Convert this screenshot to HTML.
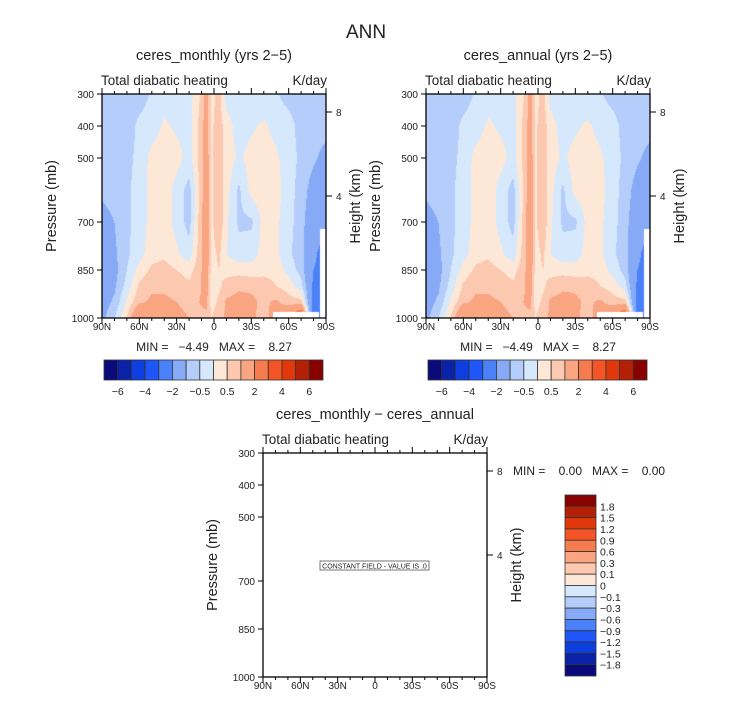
<!DOCTYPE html>
<html><head><meta charset="utf-8">
<style>
body{margin:0;background:#fff;width:733px;height:702px;overflow:hidden;position:relative;font-family:"Liberation Sans",sans-serif;}
canvas{position:absolute;}
svg{position:absolute;left:0;top:0;}
text{white-space:pre;}
</style></head>
<body>
<canvas id="c1" width="224" height="224" style="left:102px;top:94px"></canvas>
<canvas id="c2" width="224" height="224" style="left:426px;top:94px"></canvas>
<svg id="s" width="733" height="702"></svg>
<script>
// ---- data ----
const lats=[90,80,70,60,50,40,30,20,12,6,2,-4,-10,-20,-30,-40,-50,-60,-70,-80,-90];
const pres=[300,400,500,600,700,800,850,900,950,1000];
const f300=[-0.8,-0.8,-0.8,-0.7,-0.45,-0.3,-0.3,-0.2,0.4,1.3,0.3,0.7,-0.2,-0.3,-0.3,-0.4,-0.45,-0.7,-0.8,-0.8,-0.8];
const f400=[-0.8,-0.8,-0.7,-0.4,-0.3,0.1,-0.1,-0.2,0.6,1.3,0.4,0.8,0.2,-0.2,-0.1,0.1,-0.2,-0.3,-0.7,-0.8,-0.8];
const f500=[-0.9,-0.8,-0.6,-0.4,0.2,0.3,0.2,-0.2,0.6,1.4,0.4,0.8,0.3,-0.1,0.2,0.3,0.1,-0.3,-0.6,-0.9,-1.2];
const f600=[-0.9,-0.8,-0.6,-0.3,0.2,0.3,-0.2,-0.7,0.5,1.5,0.4,0.8,0.2,-0.6,0.2,0.3,0.2,-0.3,-0.7,-1.3,-1.5];
const f700=[-1.2,-1.0,-0.6,-0.3,0.2,0.3,-0.2,-0.7,0.6,1.6,0.4,0.9,0.1,-0.6,-0.6,0.2,0.1,-0.3,-0.8,-1.5,-1.8];
const f800=[-1.3,-1.1,-0.6,-0.2,0.3,0.4,0.1,-0.3,0.7,1.6,0.3,0.6,0.0,-0.3,-0.2,0.2,0.1,-0.4,-0.8,-1.8,-2.5];
const f850=[-1.3,-1.2,-0.5,0.2,0.6,0.7,0.5,0.3,0.8,1.4,0.3,0.5,0.3,0.3,0.2,0.3,0.3,-0.2,-0.7,-2,-2.5];
const f900=[-1.3,-1.1,-0.3,0.6,0.9,0.9,0.8,0.6,0.9,1.3,0.2,0.4,0.7,0.9,0.9,0.8,0.5,0.3,-0.3,-2.2,-2.5];
const f950=[-1.3,-0.9,0.1,0.9,1.1,1.1,1.0,0.9,1.0,1.1,0.3,0.6,1.1,1.2,1.1,0.9,1.1,0.7,0.7,-2.5,-2.5];
const f1000=[-1.2,-0.5,0.5,2.1,1.3,1.2,1.1,1.0,0.9,0.9,0.5,0.8,1.1,1.2,1.1,0.8,1.3,2.1,3.5,-2.5,-2.5];
const levels=[-6,-5,-4,-3,-2,-1,-0.5,0,0.5,1,2,3,4,5,6];
const cbLabels=["-6","-4","-2","-0.5","0.5","2","4","6"];
const diffLabels=["1.8","1.5","1.2","0.9","0.6","0.3","0.1","0","-0.1","-0.3","-0.6","-0.9","-1.2","-1.5","-1.8"];
const latTicks=["90N","60N","30N","0","30S","60S","90S"];
const presTicks=[300,400,500,700,850,1000];
const colors=["#0a0a7a","#0a22a8","#0c3ee0","#1e56fa","#4a80f8","#86aaf6","#b4cdfa","#d6e8fc","#fde8d8","#fcc8b0","#f9a582","#f67c50","#f45426","#e0380a","#b42006","#880202"];
const field=[f300,f400,f500,f600,f700,f800,f850,f900,f950,f1000];

function seg(arr,v,desc){for(let i=0;i<arr.length-1;i++){const a=arr[i],b=arr[i+1];if(desc?(v<=a&&v>=b):(v>=a&&v<=b))return [i,(v-a)/(b-a)];}return [arr.length-2,1];}
function val(lat,p){const [i,t]=seg(lats,lat,true);const [j,u]=seg(pres,p,false);
 const a=field[j][i],b=field[j][i+1],c=field[j+1][i],d=field[j+1][i+1];
 return (a*(1-t)+b*t)*(1-u)+(c*(1-t)+d*t)*u;}
function lev(v){let k=0;for(const l of levels)if(v>=l)k++;return k;}
function yOf(p){return (p-300)/700*224;}
function drawField(id){const cv=document.getElementById(id),ctx=cv.getContext('2d');
 for(let y=0;y<224;y++)for(let x=0;x<224;x++){const lat=90-(x+0.5)/224*180,p=300+(y+0.5)/224*700;
  ctx.fillStyle=colors[lev(val(lat,p))];ctx.fillRect(x,y,1,1);}
 ctx.fillStyle="#fff";ctx.fillRect(218,135,6,89);ctx.fillRect(171,218,46,6);}
drawField('c1');drawField('c2');

const S=document.getElementById('s');const NS="http://www.w3.org/2000/svg";
function el(tag,attrs,txt,parent){const e=document.createElementNS(NS,tag);for(const k in attrs)e.setAttribute(k,attrs[k]);if(txt!==undefined)e.textContent=txt;(parent||S).appendChild(e);return e;}
let t=el('text',{x:366,y:38,'font-size':19,'text-anchor':'middle',fill:'#222'},'ANN');



function panel(x0,y0,title,name){
 const g=el('g',{});
 
 
 let e=el('text',{x:x0+112,y:y0-34,'font-size':14.5,'text-anchor':'middle',fill:'#222'},title,g);
 
 e=el('text',{x:x0-1,y:y0-9,'font-size':13.5,fill:'#222'},'Total diabatic heating',g);
 
 e=el('text',{x:x0+225,y:y0-9,'font-size':13.5,'text-anchor':'end',fill:'#222'},'K/day',g);
 
 el('rect',{x:x0,y:y0,width:224,height:224,fill:'none',stroke:'#000','stroke-width':1.3},undefined,g);
 for(let k=0;k<=18;k++){const x=x0+k*224/18,L=(k%3==0)?6:3;
  el('line',{x1:x,y1:y0,x2:x,y2:y0-L,stroke:'#000'},undefined,g);
  el('line',{x1:x,y1:y0+224,x2:x,y2:y0+224+L,stroke:'#000'},undefined,g);}
 latTicks.forEach((s,i)=>{e=el('text',{x:x0+i*224/6,y:y0+236,'font-size':10,'text-anchor':'middle',fill:'#222'},s,g);
  });
 presTicks.forEach(p=>{const y=y0+yOf(p);el('line',{x1:x0,y1:y,x2:x0-5,y2:y,stroke:'#000'},undefined,g);
  e=el('text',{x:x0-8,y:y+4,'font-size':10,'text-anchor':'end',fill:'#222'},String(p),g);
  });
 [[8,18],[4,102]].forEach(([h,dy])=>{el('line',{x1:x0+224,y1:y0+dy,x2:x0+230,y2:y0+dy,stroke:'#000'},undefined,g);
  e=el('text',{x:x0+234,y:y0+dy+4,'font-size':10,fill:'#222'},String(h),g);
  });
 e=el('text',{x:0,y:0,'font-size':14.5,'text-anchor':'middle',fill:'#222',transform:`translate(${x0-46},${y0+112}) rotate(-90)`},'Pressure (mb)',g);
 
 e=el('text',{x:0,y:0,'font-size':14.5,'text-anchor':'middle',fill:'#222',transform:`translate(${x0+258},${y0+112}) rotate(-90)`},'Height (km)',g);
 
}
function hbar(x0,y0,name){
 const g=el('g',{});
 
 
 const w=219/16;
 colors.forEach((c,i)=>{const r=el('rect',{x:x0+i*w,y:y0,width:w,height:20,fill:c,stroke:'#333','stroke-width':0.8},undefined,g);
  });
 cbLabels.forEach((s,i)=>{const e=el('text',{x:x0+(2*i+1)*w,y:y0+35,'font-size':10.5,'text-anchor':'middle',fill:'#222'},s.replace('-','\u2212'),g);
  });
}
panel(102,94,'ceres_monthly (yrs 2\u22125)','panel-monthly');
panel(426,94,'ceres_annual (yrs 2\u22125)','panel-annual');
panel(263,453,'ceres_monthly \u2212 ceres_annual','panel-difference');
[[214,'stats-monthly'],[538,'stats-annual']].forEach(([cx,n])=>{const e=el('text',{x:cx,y:351,'font-size':12,'text-anchor':'middle',fill:'#222'},'MIN =   \u22124.49   MAX =    8.27');
 });
hbar(104,360,'colorbar-monthly');hbar(428,360,'colorbar-annual');
let e2=el('text',{x:513,y:475,'font-size':12,fill:'#222'},'MIN =    0.00   MAX =    0.00');

const cg=el('g',{});


const vh=181/16;
colors.slice().reverse().forEach((c,i)=>{const r=el('rect',{x:565,y:495+i*vh,width:31,height:vh,fill:c,stroke:'#333','stroke-width':0.8},undefined,cg);
 });
diffLabels.forEach((s,i)=>{const e=el('text',{x:600,y:495+(i+1)*vh+4,'font-size':10.5,fill:'#222'},s.replace('-','\u2212'),cg);
 });
const cb=el('rect',{x:320,y:561,width:109,height:9,fill:'#fff',stroke:'#555','stroke-width':0.8});

const ct=el('text',{x:374.5,y:568.5,'font-size':7,'text-anchor':'middle',fill:'#222'},'CONSTANT FIELD - VALUE IS .0');

</script>
</body></html>
